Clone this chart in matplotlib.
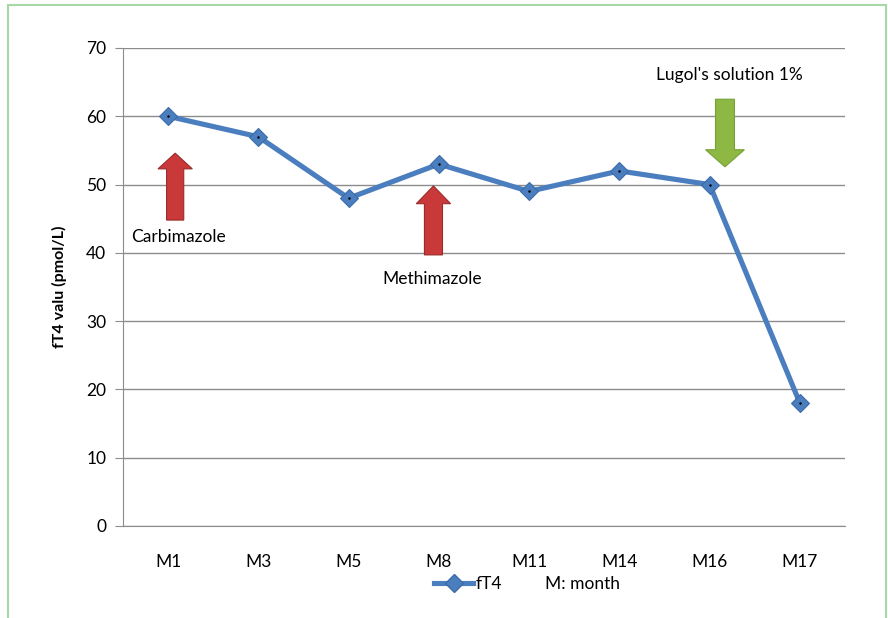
import matplotlib
matplotlib.use("Agg")
import matplotlib.pyplot as plt
from matplotlib.patches import FancyArrow, Rectangle
from matplotlib.lines import Line2D

months = ["M1", "M3", "M5", "M8", "M11", "M14", "M16", "M17"]
ft4 = [60, 57, 48, 53, 49, 52, 50, 18]
yticks = [0, 10, 20, 30, 40, 50, 60, 70]

plt.rcParams['font.family'] = ['Lato', 'DejaVu Sans']

fig = plt.figure(figsize=(8.88, 6.18), dpi=100)
fig.patch.set_facecolor('white')
fig.patches.append(Rectangle((8/888, -0.05), (886-8)/888, 1.05 - 5/618,
                             transform=fig.transFigure, fill=False,
                             edgecolor='#A6D9A6', linewidth=1.5, clip_on=False))

ax = fig.add_axes([123/888, 1-526/618, 722/888, 478/618])
x = list(range(len(months)))
line_color = '#4A7EBF'
ax.plot(x, ft4, color=line_color, linewidth=3.7, marker='D', markersize=9,
        markerfacecolor=line_color, markeredgecolor='#3D6DA8', markeredgewidth=0.8,
        label='fT4', zorder=3)
ax.plot(x, ft4, linestyle='none', marker='.', markersize=1.5, color='black', zorder=4)

ax.set_xlim(-0.5, len(months) - 0.5)
ax.set_ylim(0, 70)
ax.set_yticks(yticks)
ax.set_xticks(x)
ax.set_xticklabels(months)
ax.yaxis.grid(True, color='#8C8C8C', linewidth=1)
ax.set_axisbelow(True)
for s in ['top', 'right']:
    ax.spines[s].set_visible(False)
ax.spines['left'].set_color('#8C8C8C')
ax.spines['bottom'].set_color('#8C8C8C')
ax.tick_params(axis='y', length=6, color='#8C8C8C', labelsize=12.5, pad=6)
ax.tick_params(axis='x', length=0, labelsize=12.5, pad=20)
ax.set_ylabel('fT4 valu (pmol/L)', fontsize=11.5, fontweight='bold', labelpad=14)

# arrows
red_face, red_edge = '#C9393A', '#9A2B2B'
ax.add_patch(FancyArrow(0.078, 44.8, 0, 9.8, width=0.19, head_width=0.38,
                        head_length=2.3, length_includes_head=True,
                        facecolor=red_face, edgecolor=red_edge, linewidth=0.8, zorder=2))
ax.add_patch(FancyArrow(2.94, 39.7, 0, 10.1, width=0.20, head_width=0.38,
                        head_length=2.6, length_includes_head=True,
                        facecolor=red_face, edgecolor=red_edge, linewidth=0.8, zorder=2))
ax.add_patch(FancyArrow(6.17, 62.5, 0, -9.9, width=0.21, head_width=0.43,
                        head_length=2.5, length_includes_head=True,
                        facecolor='#8DB843', edgecolor='#76A035', linewidth=0.8, zorder=2))

ax.text(0.11, 42.3, 'Carbimazole', ha='center', va='center', fontsize=12.5)
ax.text(2.93, 36.1, 'Methimazole', ha='center', va='center', fontsize=12.5)
ax.text(6.22, 66.1, "Lugol's solution 1%", ha='center', va='center', fontsize=12.5)

handles = [Line2D([], [], color=line_color, linewidth=3.7, marker='D', markersize=9,
                  markerfacecolor=line_color, markeredgecolor='#3D6DA8'),
           Line2D([], [], linestyle='none')]
ax.legend(handles, ['fT4', 'M: month'], loc='upper center',
          bbox_to_anchor=(0.56, -0.072), ncol=2, frameon=False, fontsize=12.5,
          handlelength=2.2, handletextpad=0.2, columnspacing=0.05)

fig.savefig('out.png', dpi=100, facecolor='white')
